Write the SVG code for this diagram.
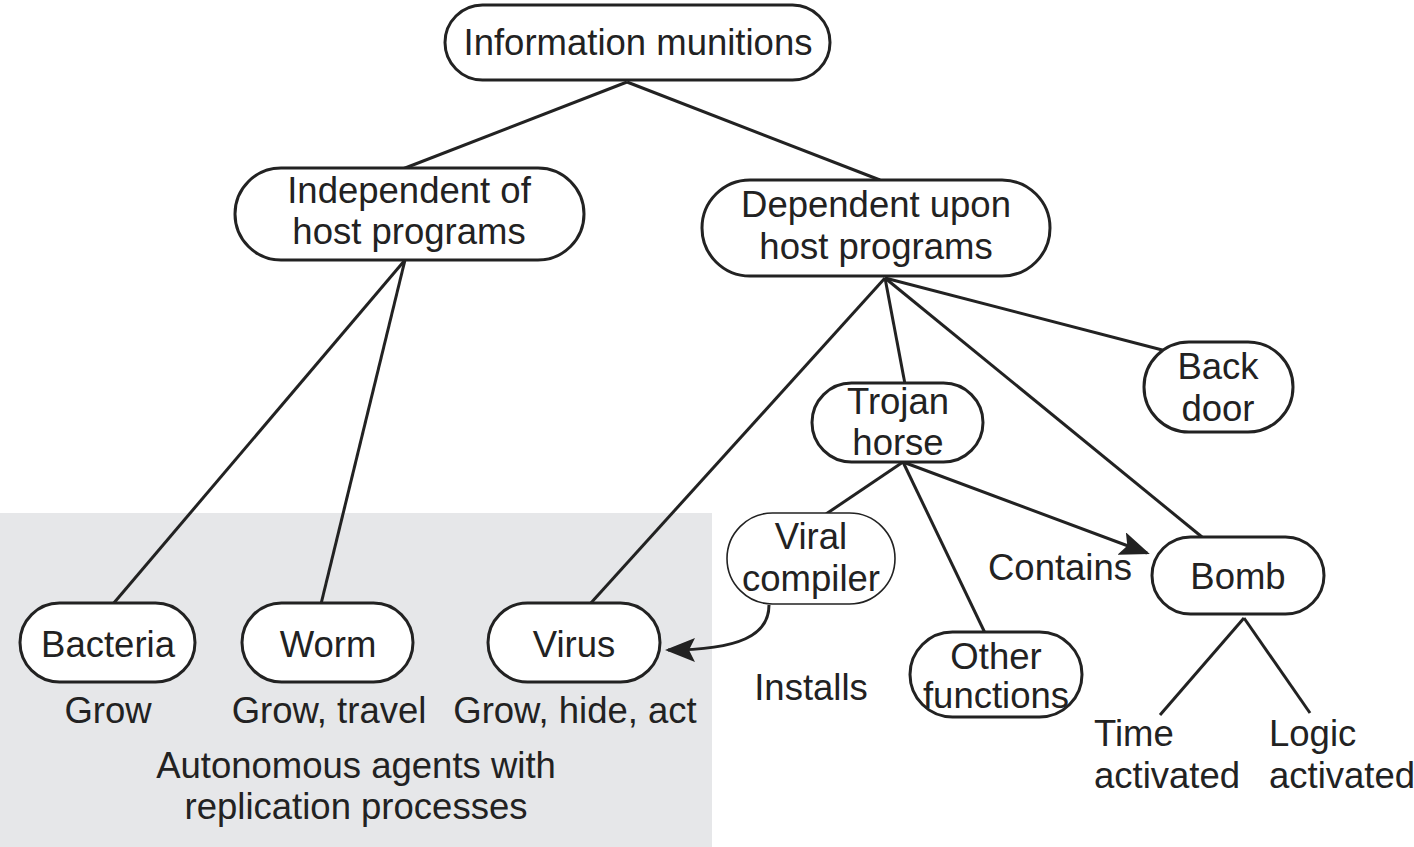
<svg xmlns="http://www.w3.org/2000/svg" width="1414" height="847" viewBox="0 0 1414 847">
<style>
text{font-family:"Liberation Sans",Arial,sans-serif;font-size:36.5px;fill:#222;text-anchor:middle}
.n{fill:#fff;stroke:#222;stroke-width:3}
.thin{stroke-width:1.6}
.c{fill:none;stroke:#222;stroke-width:3}
.l{text-anchor:start}
</style>
<defs>
<marker id="ah" markerWidth="10" markerHeight="8" refX="9" refY="4" orient="auto" markerUnits="strokeWidth">
<path d="M0,0 L10,4 L0,8 L2,4 z" fill="#222"/>
</marker>
</defs>
<rect x="0" y="513" width="712" height="334" fill="#e6e7e9"/>
<g id="connectors">
<line class="c" x1="627" y1="82" x2="400" y2="170"/>
<line class="c" x1="627" y1="82" x2="880" y2="180"/>
<line class="c" x1="405" y1="260" x2="113" y2="604"/>
<line class="c" x1="405" y1="260" x2="321" y2="604"/>
<line class="c" x1="885" y1="278" x2="590" y2="604"/>
<line class="c" x1="885" y1="278" x2="905" y2="384"/>
<line class="c" x1="885" y1="278" x2="1170" y2="352"/>
<line class="c" x1="885" y1="278" x2="1202" y2="537"/>
<line class="c" x1="903" y1="462" x2="826" y2="514"/>
<line class="c" x1="903" y1="462" x2="985" y2="633"/>
<line class="c" x1="903" y1="462" x2="1147" y2="553" marker-end="url(#ah)"/>
<path class="c" d="M769,605 C769,635 740,650 668,650" marker-end="url(#ah)"/>
<line class="c" x1="1244" y1="618" x2="1160" y2="715"/>
<line class="c" x1="1244" y1="618" x2="1310" y2="713"/>
</g>
<g id="n-info"><rect class="n" x="445" y="5" width="385" height="75" rx="37.5"/><text x="638" y="55">Information munitions</text></g>
<g id="n-indep"><rect class="n" x="235" y="168" width="349" height="92" rx="46"/><text x="409" y="203">Independent of</text><text x="409" y="244">host programs</text></g>
<g id="n-dep"><rect class="n" x="702" y="180" width="348" height="96" rx="48"/><text x="876" y="217">Dependent upon</text><text x="876" y="259">host programs</text></g>
<g id="n-trojan"><rect class="n" x="812" y="383" width="171" height="79" rx="39.5"/><text x="898" y="414">Trojan</text><text x="898" y="455">horse</text></g>
<g id="n-backdoor"><rect class="n" x="1144" y="342" width="149" height="90" rx="45"/><text x="1218" y="379">Back</text><text x="1218" y="421">door</text></g>
<g id="n-viral"><rect class="n thin" x="727" y="513" width="168" height="91" rx="45.5"/><text x="811" y="549">Viral</text><text x="811" y="591">compiler</text></g>
<g id="n-bomb"><rect class="n" x="1152" y="537" width="172" height="77" rx="38.5"/><text x="1238" y="589">Bomb</text></g>
<g id="n-other"><rect class="n" x="910" y="632" width="172" height="85" rx="42.5"/><text x="996" y="669">Other</text><text x="996" y="708">functions</text></g>
<g id="n-bacteria"><rect class="n" x="20" y="603" width="175" height="79" rx="39.5"/><text x="108" y="657">Bacteria</text></g>
<g id="n-worm"><rect class="n" x="242" y="603" width="171" height="79" rx="39.5"/><text x="328" y="657">Worm</text></g>
<g id="n-virus"><rect class="n" x="488" y="603" width="172" height="79" rx="39.5"/><text x="574" y="657">Virus</text></g>
<g id="labels">
<text x="108" y="723">Grow</text>
<text x="329" y="723">Grow, travel</text>
<text x="575" y="723">Grow, hide, act</text>
<text x="356" y="778">Autonomous agents with</text>
<text x="356" y="819">replication processes</text>
<text x="811" y="700">Installs</text>
<text x="1060" y="580">Contains</text>
<text class="l" x="1094" y="746">Time</text>
<text class="l" x="1094" y="788">activated</text>
<text class="l" x="1269" y="746">Logic</text>
<text class="l" x="1269" y="788">activated</text>
</g>
</svg>
